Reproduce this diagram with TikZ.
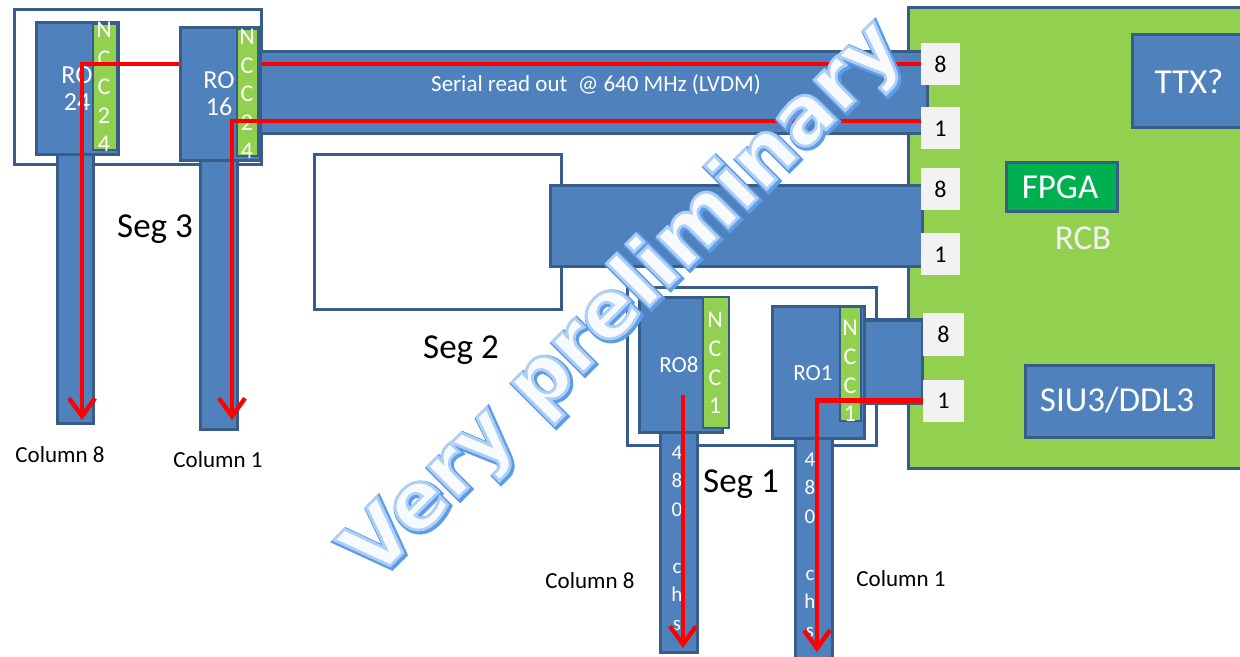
\documentclass[tikz,border=0pt]{standalone}
\usepackage{fontspec}
\setmainfont{Carlito}
\newfontfamily\wmfont{DejaVu Sans}
\usetikzlibrary{arrows.meta}
\definecolor{bfill}{HTML}{4F81BD}
\definecolor{bline}{HTML}{385D8A}
\definecolor{gfill}{HTML}{92D050}
\definecolor{fpgac}{HTML}{00B050}
\definecolor{portc}{HTML}{F2F2F2}
\definecolor{wmfill}{HTML}{F7FAFE}
\tikzset{
  blk/.style={fill=bfill, draw=bline, line width=1.5pt},
  seg/.style={fill=white, draw=bline, line width=1.5pt},
  ncc/.style={fill=gfill, draw=bline, line width=1pt},
  board/.style={fill=gfill, draw=bline, line width=1.5pt},
  sig/.style={draw=red, line width=2.2pt},
  sigarrow/.style={sig, -{Straight Barb[length=9pt,width=13pt]}},
  port/.style={fill=portc, inner sep=0pt, minimum width=19.5pt, minimum height=21pt, font=\fontsize{12}{14}\selectfont},
  wt/.style={text=white, inner sep=0pt},
  big/.style={inner sep=0pt, font=\fontsize{17.5}{20}\selectfont},
  small/.style={inner sep=0pt, font=\fontsize{11.5}{13}\selectfont},
  rotxt/.style={wt, align=center, font=\fontsize{13}{13.5}\selectfont},
  rosmall/.style={wt, align=center, font=\fontsize{11.5}{13}\selectfont},
  ncctxt/.style={wt, align=center, font=\fontsize{12}{14.3}\selectfont},
  chtxt/.style={wt, align=center, font=\fontsize{10.5}{14.25}\selectfont},
  wm/.style={inner sep=0pt, rotate=45, anchor=base, font=\wmfont\bfseries\fontsize{40}{40}\selectfont}
}
\begin{document}
\begin{tikzpicture}[x=0.5pt, y=-0.5pt]
\useasboundingbox (0,0) rectangle (1240,657);
% segment frames
\draw[seg] (14,10) rectangle (261,165);
\draw[seg] (314,155) rectangle (561,310);
\draw[seg] (627,288) rectangle (876,445);
% Seg 3 columns
\draw[blk] (57,150) rectangle (93,423);
\draw[blk] (200,158) rectangle (237,429);
% RCB board
\draw[board] (908,8) rectangle (1252,468);
% buses
\draw[blk] (255,52) rectangle (927,134);
\draw[blk] (550,186) rectangle (922,267);
\draw[blk] (860,320) rectangle (922,403);
% Seg 1 columns
\draw[blk] (660,425) rectangle (697,652);
\draw[blk] (795,432) rectangle (832,668);
% ports
\node[port] (pa8) at (940.5,64) {8};
\node[port] (pa1) at (940.5,128.5) {1};
\node[port] (pb8) at (940.5,189) {8};
\node[port] (pb1) at (940.5,254.5) {1};
\node[port, minimum width=20.5pt] (pc8) at (943.5,334.5) {8};
\node[port, minimum width=20.5pt] (pc1) at (943.5,400.5) {1};
% RO24
\draw[blk] (36,23) rectangle (118,155);
\draw[ncc] (93,24) rectangle (117,150);
\node[rotxt] (ro24) at (77,89) {RO\\24};
\node[ncctxt] (ncc24) at (104,87) {N\\C\\C\\2\\4};
% upper serial line
\coordinate (e24) at (82,420);
\draw[sigarrow] (pa8.west) -| (e24);
% RO16
\draw[blk] (180,28) rectangle (260,161);
\draw[ncc] (237,29) rectangle (258,156);
\node[rotxt] (ro16) at (219,94) {RO\\16};
\node[ncctxt] (ncc16) at (247,94) {N\\C\\C\\2\\4};
% lower serial line
\coordinate (e16) at (232,420);
\draw[sigarrow] ([yshift=3.75pt]pa1.west) -| (e16);
\node[small, text=white] (serial) at (596,85) {Serial read out \ @ 640 MHz (LVDM)};
% Seg 1 blocks
\draw[blk] (639,298) rectangle (722,432);
\draw[ncc] (703,297) rectangle (729,428);
\node[rosmall] (ro8) at (679,365) {RO8};
\node[ncctxt] (ncc8) at (715,363) {N\\C\\C\\1};
\draw[blk] (772,307) rectangle (864,438);
\draw[ncc] (840,307) rectangle (861,421);
\node[rosmall] (ro1) at (813,373) {RO1};
\node[ncctxt] (ncc1) at (850,371) {N\\C\\C\\1};
\node[chtxt] (ch8) at (677,538) {4\\8\\0\\\mbox{}\\c\\h\\s};
\node[chtxt] (ch1) at (810,545) {4\\8\\0\\\mbox{}\\c\\h\\s};
\coordinate (s8) at (683,395);
\coordinate (e8) at (683,648);
\draw[sigarrow] (s8) -- (e8);
\coordinate (e1) at (817,652);
\draw[sigarrow] (pc1.west) -| (e1);
% RCB contents
\draw[blk] (1132,35) rectangle (1252,128);
\node[big, text=white] (ttx) at (1189,82) {TTX?};
\draw[fill=fpgac, draw=bline, line width=1.5pt] (1006,163) rectangle (1117,212);
\node[big, text=white] (fpga) at (1060,187) {FPGA};
\node[big, text=portc] (rcb) at (1083,238) {RCB};
\draw[blk] (1025,365) rectangle (1213,437);
\node[big, text=white] (siu) at (1117,400) {SIU3/DDL3};
% labels
\node[big] (seg3) at (155,229) {Seg 3};
\node[big] (seg2) at (461,350) {Seg 2};
\node[big] (seg1) at (741,484) {Seg 1};
\node[small] (c8a) at (60,455) {Column 8};
\node[small] (c1a) at (218,460) {Column 1};
\node[small] (c8b) at (590,581) {Column 8};
\node[small] (c1b) at (901,579) {Column 1};
% watermark: blue bevelled edge, then light inner edge with white fill
\coordinate (wmc) at (640,316);
\coordinate (wmsh) at (641.5,317.5);
\node[wm, text=white] (wmedge) at (wmsh) {\special{pdf:literal direct 2 Tr 3 w 0.36 0.61 0.91 RG}Very preliminary\special{pdf:literal direct 0 Tr}};
\node[wm, text=wmfill] (wmark) at (wmc) {\special{pdf:literal direct 2 Tr 1.4 w 0.68 0.81 0.96 RG}Very preliminary\special{pdf:literal direct 0 Tr}};
\end{tikzpicture}
\end{document}
